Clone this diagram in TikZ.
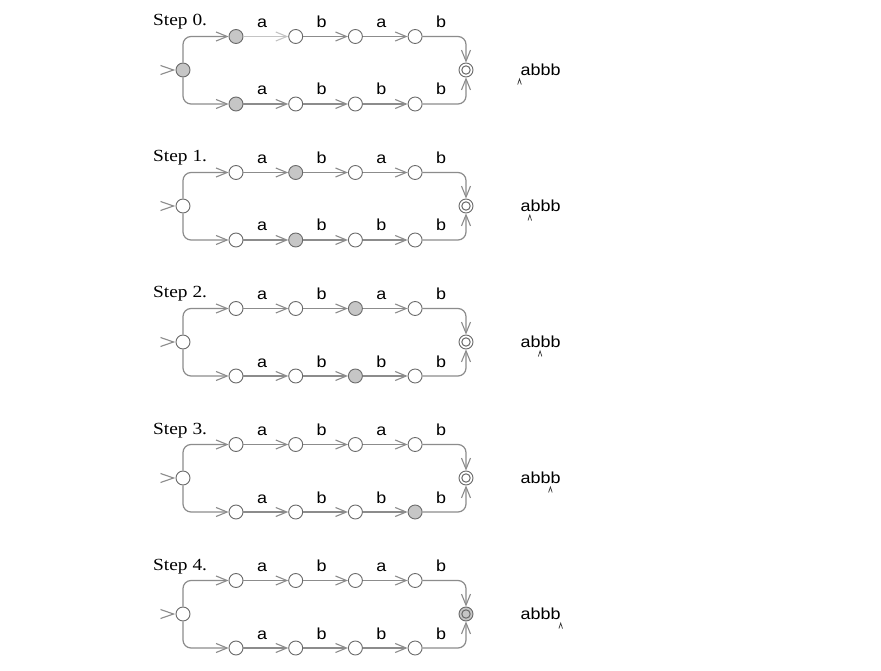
\documentclass[tikz,border=0pt]{standalone}
\usepackage{fontspec}
\setmainfont{Liberation Serif}
\setsansfont{Liberation Sans}
\usetikzlibrary{arrows.meta}
\definecolor{edgegray}{HTML}{8C8C8C}
\definecolor{lightedge}{HTML}{C4C4C4}
\definecolor{nodegray}{HTML}{6A6A6A}
\definecolor{fillgray}{HTML}{C6C6C6}
\newcommand\hs[2][1.12]{\scalebox{#1}[1]{#2}}
\tikzset{
  state/.style={circle, draw=nodegray, line width=0.9pt, minimum size=14pt, inner sep=0pt},
  finalstate/.style={state, path picture={\draw[nodegray, line width=1pt] (path picture bounding box.center) circle (4.2pt);}},
  edge/.style={draw=edgegray, line width=1.2pt, -{Straight Barb[length=11pt,width=9pt,line width=1.1pt]}},
  edgeline/.style={draw=edgegray, line width=1.1pt},
  sym/.style={font=\sffamily\fontsize{16}{16}\selectfont, inner sep=0pt, anchor=base},
  word/.style={font=\sffamily\fontsize{16}{16}\selectfont, inner sep=0pt, anchor=base west},
  steplabel/.style={font=\rmfamily\fontsize{17}{17}\selectfont, inner sep=0pt, anchor=base west},
  caret/.style={draw=black!80, line width=0.7pt}
}
% #1 step, #2 Y, #3 init fill, #4 filled top index, #5 filled bottom index, #6 final fill, #7 first top edge colour
\newcommand\drawstep[7]{%
  \node[state, fill=#3] (i#1) at (183,#2) {};
  \node[finalstate, fill=#6] (f#1) at (466,#2) {};
  \foreach \j/\x in {1/236,2/295.7,3/355.4,4/415.1} {
    \ifnum\j=#4 \def\fc{fillgray}\else\def\fc{white}\fi
    \node[state, fill=\fc] (t#1\j) at (\x,#2-33.5) {};
    \ifnum\j=#5 \def\fc{fillgray}\else\def\fc{white}\fi
    \node[state, fill=\fc] (b#1\j) at (\x,#2+34) {};
  }
  \foreach \j/\x/\la/\lb in {1/262/a/a,2/321.7/b/b,3/381.4/a/b,4/441.1/b/b} {
    \node[sym] (lt#1\j) at (\x,#2-33.5-9) {\hs{\la}};
    \node[sym] (lb#1\j) at (\x,#2+34-9) {\hs{\lb}};
  }
  \draw[edgeline] ([xshift=-15pt,yshift=4.5pt]i#1.west) -- ([xshift=-2pt]i#1.west) -- ([xshift=-15pt,yshift=-4.5pt]i#1.west);
  \draw[edge, rounded corners=8pt] (i#1) |- (t#11);
  \draw[edge, rounded corners=8pt] (i#1) |- (b#11);
  \draw[edge, draw=#7] (t#11) -- (t#12);
  \draw[edge] (t#12) -- (t#13);
  \draw[edge] (t#13) -- (t#14);
  \draw[edge] (b#11) -- (b#12);
  \draw[edge] (b#12) -- (b#13);
  \draw[edge] (b#13) -- (b#14);
  \draw[edge, rounded corners=8pt] (t#14) -| (f#1);
  \draw[edge, rounded corners=8pt] (b#14) -| (f#1);
  \node[steplabel] (s#1) at (153,#2-33.5-10.5) {\hs[1.14]{Step #1.}};
  \node[word] (w#1) at (520.5,#2+5.5) {\hs{abbb}};
  \coordinate (c#1) at (519.5+10.3*#1,#2+5.5);
  \draw[caret] ([xshift=-1.8pt,yshift=-9pt]c#1) -- ([yshift=-3.5pt]c#1) -- ([xshift=1.8pt,yshift=-9pt]c#1);
}
\begin{document}
\begin{tikzpicture}[x=1pt,y=-1pt]
\useasboundingbox[fill=white] (0,0) rectangle (881,671);
\drawstep{0}{70}{fillgray}{1}{1}{white}{lightedge}
\drawstep{1}{206}{white}{2}{2}{white}{edgegray}
\drawstep{2}{342}{white}{3}{3}{white}{edgegray}
\drawstep{3}{478}{white}{0}{4}{white}{edgegray}
\drawstep{4}{614}{white}{0}{0}{fillgray}{edgegray}
\end{tikzpicture}
\end{document}
